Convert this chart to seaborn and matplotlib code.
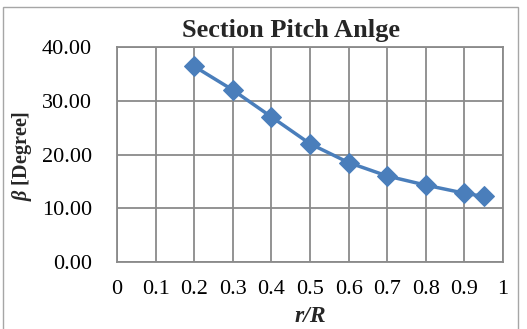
import matplotlib
matplotlib.use("Agg")
import matplotlib.pyplot as plt
import seaborn as sns
import pandas as pd
from matplotlib.patches import Rectangle

r_over_R = [0.2, 0.3, 0.4, 0.5, 0.6, 0.7, 0.8, 0.9, 0.95]
beta_deg = [36.4, 32.0, 27.0, 22.0, 18.5, 16.0, 14.3, 12.8, 12.2]
x_ticks = [0, 0.1, 0.2, 0.3, 0.4, 0.5, 0.6, 0.7, 0.8, 0.9, 1]
x_tick_labels = ["0", "0.1", "0.2", "0.3", "0.4", "0.5", "0.6", "0.7", "0.8", "0.9", "1"]
y_ticks = [0, 10, 20, 30, 40]

df = pd.DataFrame({"r/R": r_over_R, "beta": beta_deg})

sns.set_style("white")
plt.rcParams["font.family"] = ["Liberation Serif", "DejaVu Serif"]
plt.rcParams["mathtext.fontset"] = "custom"
plt.rcParams["mathtext.rm"] = "Liberation Serif"
plt.rcParams["mathtext.it"] = "Liberation Serif:italic"
plt.rcParams["mathtext.bf"] = "Liberation Serif:bold"
plt.rcParams["mathtext.bfit"] = "Liberation Serif:bold:italic"

W, H = 527, 329
fig = plt.figure(figsize=(W / 100, H / 100), dpi=100)
ax = fig.add_axes([117 / W, 1 - 262 / H, 386 / W, 215 / H])

line_color = "#4A7EBB"
sns.lineplot(data=df, x="r/R", y="beta", ax=ax, color=line_color, linewidth=2.5,
             marker="D", markersize=10.5, markeredgecolor=line_color,
             markerfacecolor=line_color)

ax.set_xlim(0, 1)
ax.set_ylim(0, 40)
ax.set_xticks(x_ticks)
ax.set_xticklabels(x_tick_labels)
ax.set_yticks(y_ticks)
ax.set_yticklabels([f"{v:.2f}" for v in y_ticks])
ax.tick_params(axis="both", length=0, labelsize=16, colors="black")
ax.tick_params(axis="x", pad=13)
ax.tick_params(axis="y", pad=18)

ax.grid(True, color="#8A8A8A", linewidth=1.3)
for s in ax.spines.values():
    s.set_color("#8A8A8A")
    s.set_linewidth(1.3)

fig.text(291 / W, 1 - 37 / H, "Section Pitch Anlge", fontsize=19,
         fontweight="bold", ha="center", va="baseline")
ax.set_xlabel("r/R", fontsize=17, fontweight="bold", fontstyle="italic", labelpad=5)
ax.set_ylabel("")
fig.text(22 / W, 1 - 156 / H, r"$\mathbfit{\beta}$ [Degree]", fontsize=14.5,
         fontweight="bold", rotation=90, ha="center", va="center")

fig.patches.append(Rectangle((3 / W, -0.01), 515 / W, 1 - 7 / H + 0.01,
                             transform=fig.transFigure, fill=False,
                             edgecolor="#A6A6A6", linewidth=1.0))

fig.savefig("out.png", dpi=100)
